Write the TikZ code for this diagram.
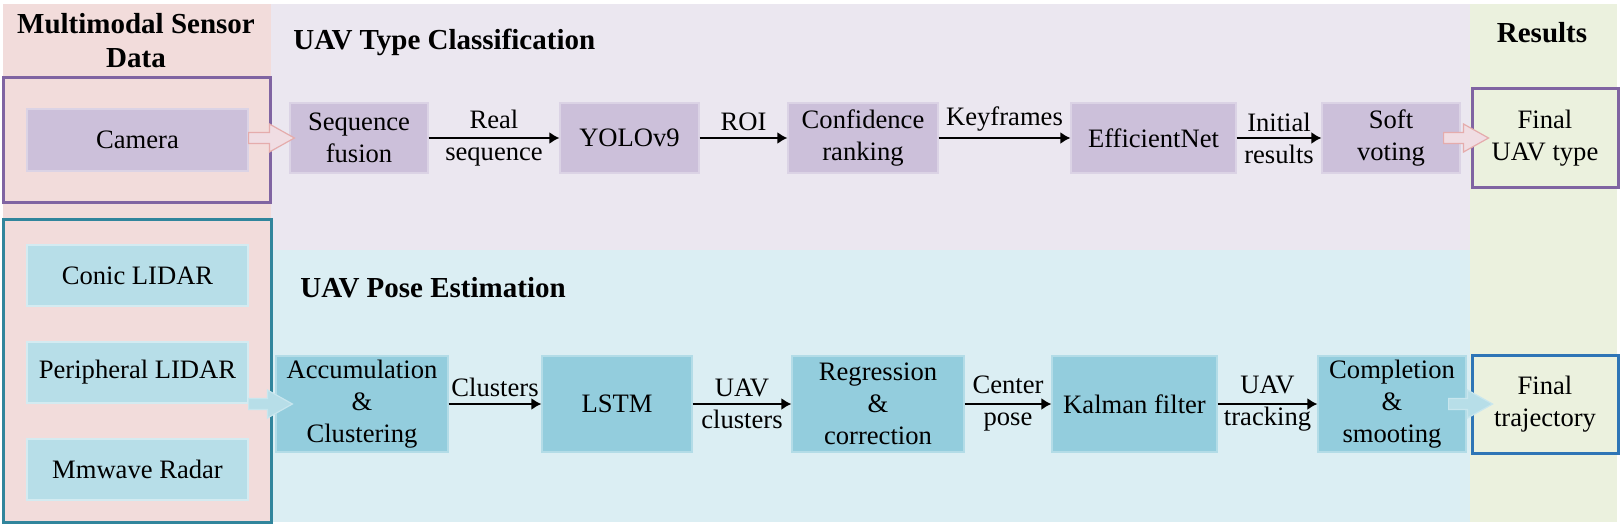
\documentclass[tikz,border=0pt]{standalone}
\usepackage{fontspec}
\setmainfont{Liberation Serif}
\usetikzlibrary{calc,arrows.meta}

\definecolor{bgpink}{RGB}{242,220,219}
\definecolor{bglav}{RGB}{235,231,240}
\definecolor{bgblue}{RGB}{219,238,243}
\definecolor{bggreen}{RGB}{235,241,222}
\definecolor{boxpurple}{RGB}{204,192,218}
\definecolor{boxsensor}{RGB}{183,222,232}
\definecolor{boxblue}{RGB}{147,205,221}
\definecolor{framepurple}{RGB}{128,100,162}
\definecolor{frameteal}{RGB}{49,133,156}
\definecolor{frameblue}{RGB}{46,117,182}
\definecolor{arrowpink}{RGB}{240,221,227}
\definecolor{edgepink}{RGB}{229,172,172}
\definecolor{edgeblue}{RGB}{200,230,238}

\newcommand{\blockarrow}[3]{%
  \filldraw[#1] let \p1=(#2), \p2=(#3) in
    (\x1,\y2+2.75pt) -- (\x2-12.5pt,\y2+2.75pt) -- (\x2-12.5pt,\y2+7pt)
    -- (\x2,\y2) -- (\x2-12.5pt,\y2-7pt) -- (\x2-12.5pt,\y2-2.75pt)
    -- (\x1,\y2-2.75pt) -- cycle;}

\begin{document}
\begin{tikzpicture}[x=0.5pt, y=-0.5pt,
    every node/.append style={font=\fontsize{13.3}{16}\selectfont, align=center, inner sep=0pt},
    title/.style={font=\fontsize{14.5}{17}\selectfont\bfseries},
    purplebox/.style={fill=boxpurple, draw=boxpurple!70!white, line width=0.6pt, minimum height=35pt},
    bluebox/.style={fill=boxblue, draw=boxblue!70!white, line width=0.6pt, minimum height=48pt},
    sensorbox/.style={fill=boxsensor, draw=boxsensor!60!white, line width=0.6pt, minimum width=110.5pt, minimum height=30.5pt},
    outbox/.style={line width=1.5pt},
    lbl/.style={inner sep=3pt},
    flow/.style={-{Latex[length=5pt,width=6pt]}, line width=1pt}]

	\useasboundingbox (0,0) rectangle (1620,524);
	\fill[white] (0,0) rectangle (1620,524);

	\fill[bgpink] (3,4) rectangle (271,522);
	\fill[bglav] (271,4) rectangle (1470,250);
	\fill[bgblue] (271,250) rectangle (1470,522);
	\fill[bggreen] (1470,4) rectangle (1617,522);

	\node[title] (tsensor) at (136,41) {Multimodal Sensor\\Data};
	\node[title, anchor=base west] (ttype) at (293,50) {UAV Type Classification};
	\node[title, anchor=base west] (tpose) at (300,297) {UAV Pose Estimation};
	\node[title, anchor=base] (tresult) at (1542,43) {Results};

	\node[outbox, draw=framepurple, minimum width=133.5pt, minimum height=62pt] (camframe) at (136.5,140) {};
	\node[outbox, draw=frameteal, minimum width=134pt, minimum height=151.5pt] (lidarframe) at (137,370.5) {};
	\node[sensorbox, fill=boxpurple, draw=boxpurple!70!white, minimum height=31pt] (cam) at (137.5,140) {Camera};
	\node[sensorbox] (conic) at (137.5,275.5) {Conic LIDAR};
	\node[sensorbox] (peri) at (137.5,372.5) {Peripheral LIDAR};
	\node[sensorbox] (mmw) at (137.5,469.5) {Mmwave Radar};

	\node[purplebox, minimum width=69pt] (seq) at (359,138) {Sequence\\fusion};
	\node[purplebox, minimum width=69.5pt] (yolo) at (629.5,138) {YOLOv9};
	\node[purplebox, minimum width=75pt] (conf) at (863,138) {Confidence\\ranking};
	\node[purplebox, minimum width=82.5pt] (eff) at (1153.5,138) {EfficientNet};
	\node[purplebox, minimum width=69pt] (soft) at (1391,138) {Soft\\voting};
	\node[outbox, draw=framepurple, minimum width=73pt, minimum height=49pt] (ftype) at (1545,138) {Final\\UAV type};

	\node[bluebox, minimum width=86pt] (accum) at (362,404) {Accumulation\\\&\\Clustering};
	\node[bluebox, minimum width=75pt] (lstm) at (617,404) {LSTM};
	\node[bluebox, minimum width=86pt] (regr) at (878,404) {Regression\\\&\\correction};
	\node[bluebox, minimum width=82.5pt] (kalman) at (1134.5,404) {Kalman filter};
	\node[bluebox, minimum width=74pt] (compl) at (1392,404) {Completion\\\&\\smooting};
	\node[outbox, draw=frameblue, minimum width=73pt, minimum height=49pt] (ftraj) at (1545,404) {Final\\trajectory};

	\draw[flow] (seq) -- (yolo) node[lbl,midway] (lreal) {Real\\sequence};
	\draw[flow] (yolo) -- (conf) node[lbl,above,midway] (lroi) {ROI};
	\draw[flow] (conf) -- (eff) node[lbl,above,midway] (lkey) {Keyframes};
	\draw[flow] (eff) -- (soft) node[lbl,midway] (linit) {Initial\\results};

	\draw[flow] (accum) -- (lstm) node[lbl,above,midway] (lclus) {Clusters};
	\draw[flow] (lstm) -- (regr) node[lbl,midway] (luavc) {UAV\\clusters};
	\draw[flow] (regr) -- (kalman) node[lbl,midway] (lpose) {Center\\pose};
	\draw[flow] (kalman) -- (compl) node[lbl,midway] (ltrack) {UAV\\tracking};

	\blockarrow{fill=arrowpink, draw=edgepink, line width=0.6pt}{cam.east}{[xshift=2.5pt]seq.west}
	\blockarrow{fill=arrowpink, draw=edgepink, line width=0.6pt}{[xshift=-8.5pt]soft.east}{[xshift=9pt]ftype.west}
	\blockarrow{fill=boxsensor, draw=edgeblue, line width=0.6pt}{peri.east}{[xshift=8.5pt]accum.west}
	\blockarrow{fill=boxsensor, draw=edgeblue, line width=0.6pt}{[xshift=-9pt]compl.east}{[xshift=11pt]ftraj.west}
\end{tikzpicture}
\end{document}
